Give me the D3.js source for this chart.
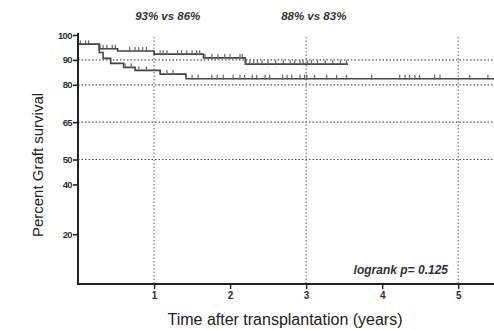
<!DOCTYPE html>
<html>
<head>
<meta charset="utf-8">
<script src="https://cdn.jsdelivr.net/npm/d3@7"></script>
<style>
  html, body { margin: 0; padding: 0; background: #fff; }
  svg { display: block; }
</style>
</head>
<body>
<svg id="chart" width="494" height="330"></svg>
<script>
// ---- data ----
const yTicks = [100, 90, 80, 65, 50, 40, 20];
const xTicks = [1, 2, 3, 4, 5];
const hGrid = [90, 80, 65, 50];
const vGrid = [1, 3, 5];

// step curves: [time (years), survival %]
const upperSteps = [[0, 96.3], [0.28, 94.5], [0.52, 93.6], [1.0, 92.3], [1.65, 90.8], [2.2, 88.3], [3.55, 88.3]];
const lowerSteps = [[0, 96.3], [0.28, 93.0], [0.33, 90.6], [0.43, 88.6], [0.6, 87.0], [0.75, 85.8], [1.08, 84.3], [1.42, 82.4], [5.47, 82.4]];

const upperCensor = [0.03, 0.1, 0.14, 0.29, 0.33, 0.38, 0.45, 0.49, 0.68, 0.75, 0.8, 0.85, 0.9, 1.08, 1.12, 1.17, 1.31, 1.36, 1.43, 1.5, 1.56, 1.6, 1.67, 1.76, 1.84, 1.93, 2.0, 2.13, 2.16, 2.21, 2.26, 2.31, 2.36, 2.42, 2.5, 2.6, 2.7, 2.79, 2.85, 2.92, 2.96, 3.02, 3.07, 3.15, 3.25, 3.35, 3.45, 3.53];
const lowerCensor = [0.62, 0.7, 0.8, 0.9, 1.17, 1.25, 1.5, 1.58, 1.76, 1.83, 1.91, 2.04, 2.13, 2.19, 2.29, 2.35, 2.46, 2.52, 2.69, 2.75, 2.81, 2.92, 2.98, 3.01, 3.11, 3.27, 3.4, 3.53, 3.86, 4.23, 4.3, 4.36, 4.43, 4.49, 4.69, 4.76, 5.15, 5.39];

const annotations = [
  { text: "93% vs 86%", t: 1.18 },
  { text: "88% vs 83%", t: 3.1 }
];
const pText = "logrank p= 0.125";
const xLabel = "Time after transplantation (years)";
const yLabel = "Percent Graft survival";

// ---- scales ----
const x = d3.scaleLinear().domain([0, 5.47]).range([78, 494]);
const y = d3.scaleLinear().domain([0, 100]).range([284, 35]);

const svg = d3.select("#chart");
const ink = "#333";

// grid
svg.append("g").selectAll("line").data(hGrid).join("line")
  .attr("x1", x(0)).attr("x2", x(5.47))
  .attr("y1", d => y(d)).attr("y2", d => y(d))
  .attr("stroke", "#555").attr("stroke-width", 1.2)
  .attr("stroke-dasharray", "1.5,2");
svg.append("g").selectAll("line").data(vGrid).join("line")
  .attr("x1", d => x(d)).attr("x2", d => x(d))
  .attr("y1", y(100) + 2).attr("y2", y(0))
  .attr("stroke", "#777").attr("stroke-width", 1.2)
  .attr("stroke-dasharray", "1.5,2");

// curves
const stepLine = d3.line().x(d => x(d[0])).y(d => y(d[1])).curve(d3.curveStepAfter);
function valueAt(steps, t) {
  let v = steps[0][1];
  for (const s of steps) if (s[0] <= t) v = s[1];
  return v;
}
[[upperSteps, upperCensor], [lowerSteps, lowerCensor]].forEach(([steps, cens]) => {
  svg.append("path").datum(steps).attr("d", stepLine)
    .attr("fill", "none").attr("stroke", "#444").attr("stroke-width", 1.6);
  svg.append("g").selectAll("line").data(cens).join("line")
    .attr("x1", d => x(d)).attr("x2", d => x(d))
    .attr("y1", d => y(valueAt(steps, d)) - 4).attr("y2", d => y(valueAt(steps, d)) + 1)
    .attr("stroke", "#666").attr("stroke-width", 1.2);
});

// axes
const yAxis = d3.axisLeft(y).tickValues(yTicks).tickSize(5).tickPadding(1).tickSizeOuter(0);
const gy = svg.append("g").attr("transform", `translate(${x(0)},0)`).call(yAxis);
gy.select(".domain").attr("stroke", "#222").attr("stroke-width", 2).attr("d", `M0,${y(0)}V${y(100) - 2}`);
gy.selectAll(".tick line").attr("stroke", "#222").attr("stroke-width", 1.6);
gy.selectAll(".tick text").attr("font-family", "Liberation Sans, Arial, sans-serif")
  .attr("font-size", 9.5).attr("font-weight", "bold").attr("fill", ink).attr("letter-spacing", -0.6);

const xAxis = d3.axisBottom(x).tickValues(xTicks).tickFormat(d3.format("d")).tickSize(5).tickPadding(3).tickSizeOuter(0);
const gx = svg.append("g").attr("transform", `translate(0,${y(0)})`).call(xAxis);
gx.select(".domain").attr("stroke", "#222").attr("stroke-width", 2.2).attr("d", `M${x(0) - 1},0H494`);
gx.selectAll(".tick line").attr("stroke", "#222").attr("stroke-width", 1.4);
gx.selectAll(".tick text").attr("font-family", "Liberation Sans, Arial, sans-serif")
  .attr("font-size", 10).attr("font-weight", "bold").attr("fill", ink);

// annotations
svg.append("g").selectAll("text").data(annotations).join("text")
  .attr("x", d => x(d.t)).attr("y", 20).attr("text-anchor", "middle")
  .attr("font-family", "Liberation Sans, Arial, sans-serif").attr("font-size", 11.5)
  .attr("font-weight", "bold").attr("font-style", "italic").attr("fill", ink)
  .text(d => d.text);

svg.append("text").attr("x", 448).attr("y", 274).attr("text-anchor", "end")
  .attr("font-family", "Liberation Sans, Arial, sans-serif").attr("font-size", 12)
  .attr("font-weight", "bold").attr("font-style", "italic").attr("fill", ink)
  .text(pText);

svg.append("text").attr("x", 285).attr("y", 325).attr("text-anchor", "middle")
  .attr("font-family", "Liberation Sans, Arial, sans-serif").attr("font-size", 16)
  .attr("fill", "#222").text(xLabel);

svg.append("text").attr("transform", "translate(43,165) rotate(-90)").attr("text-anchor", "middle")
  .attr("font-family", "Liberation Sans, Arial, sans-serif").attr("font-size", 15)
  .attr("fill", "#222").text(yLabel);
</script>
</body>
</html>
